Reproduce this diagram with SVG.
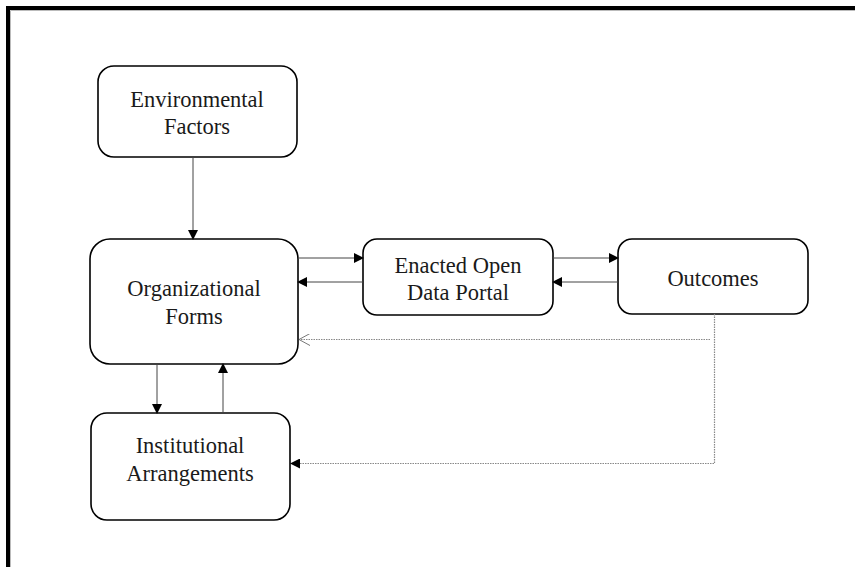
<svg xmlns="http://www.w3.org/2000/svg" width="855" height="567" viewBox="0 0 855 567">
<style>
.node rect{fill:#fff;stroke:#000;stroke-width:1.6}
.node text{font-family:"Liberation Serif","Times New Roman",serif;font-size:22.5px;fill:#1a1a1a;text-anchor:middle}
.c{stroke:#444;stroke-width:1;fill:none}
.d{stroke:#888;stroke-width:1.2;fill:none;stroke-dasharray:1.5 1}
</style>
<defs>
<marker id="a" markerWidth="10" markerHeight="10" refX="9" refY="5" orient="auto" markerUnits="userSpaceOnUse"><path d="M0,0 L10,5 L0,10 Z" fill="#000"/></marker>
<marker id="o" markerWidth="12" markerHeight="12" refX="11" refY="6" orient="auto" markerUnits="userSpaceOnUse"><path d="M0,0 L11,6 L0,12" fill="none" stroke="#777" stroke-width="1"/></marker>
</defs>
<rect x="0" y="0" width="855" height="567" fill="#fff"/>
<rect x="8" y="8" width="900" height="620" fill="none" stroke="#000" stroke-width="4"/>
<path d="M10.5,580 V10.5 H855" fill="none" stroke="#bbb" stroke-width="1"/>
<g id="env" class="node"><rect x="98" y="66" width="199" height="91" rx="16"/><text x="197" y="107">Environmental</text><text x="197" y="134">Factors</text></g>
<g id="org" class="node"><rect x="90" y="239" width="208" height="125" rx="20"/><text x="194" y="296">Organizational</text><text x="194" y="324">Forms</text></g>
<g id="portal" class="node"><rect x="363" y="239" width="190" height="76" rx="14"/><text x="458" y="273">Enacted Open</text><text x="458" y="300">Data Portal</text></g>
<g id="out" class="node"><rect x="618" y="239" width="190" height="75" rx="14"/><text x="713" y="286">Outcomes</text></g>
<g id="inst" class="node"><rect x="91" y="413" width="199" height="107" rx="16"/><text x="190" y="453">Institutional</text><text x="190" y="481">Arrangements</text></g>
<g id="connectors">
<line class="c" x1="193" y1="157" x2="193" y2="239" marker-end="url(#a)"/>
<line class="c" x1="298" y1="258" x2="363" y2="258" marker-end="url(#a)"/>
<line class="c" x1="363" y1="282" x2="298" y2="282" marker-end="url(#a)"/>
<line class="c" x1="553" y1="258" x2="618" y2="258" marker-end="url(#a)"/>
<line class="c" x1="618" y1="282" x2="553" y2="282" marker-end="url(#a)"/>
<line class="c" x1="157" y1="364" x2="157" y2="413" marker-end="url(#a)"/>
<line class="c" x1="223" y1="413" x2="223" y2="364" marker-end="url(#a)"/>
<path class="d" d="M710,339.5 H299" marker-end="url(#o)"/>
<path class="d" d="M714.5,314 V463.5 H291" marker-end="url(#a)"/>
</g>
</svg>
